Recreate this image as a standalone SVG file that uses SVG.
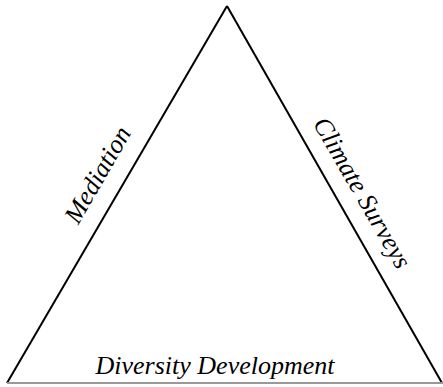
<svg xmlns="http://www.w3.org/2000/svg" width="443" height="387" viewBox="0 0 443 387">
<style>
.lbl{font-family:"Liberation Serif","Times New Roman",serif;font-style:italic;font-size:26px;fill:#000;text-anchor:middle}
.edge{stroke:#000;stroke-width:2;fill:none}
.base{stroke:#999;stroke-width:2;fill:none}
</style>
<rect width="443" height="387" fill="#fff"/>
<g id="connectors">
<line class="edge" x1="7" y1="383" x2="227" y2="6"/>
<line class="edge" x1="227" y1="6" x2="442" y2="383"/>
<line class="base" x1="7" y1="383" x2="443" y2="383"/>
</g>
<g id="mediation"><text class="lbl" transform="translate(105,179) rotate(-60)">Mediation</text></g>
<g id="climate"><text class="lbl" transform="translate(355,197) rotate(60)">Climate Surveys</text></g>
<g id="diversity"><text class="lbl" x="215" y="374">Diversity Development</text></g>
</svg>
